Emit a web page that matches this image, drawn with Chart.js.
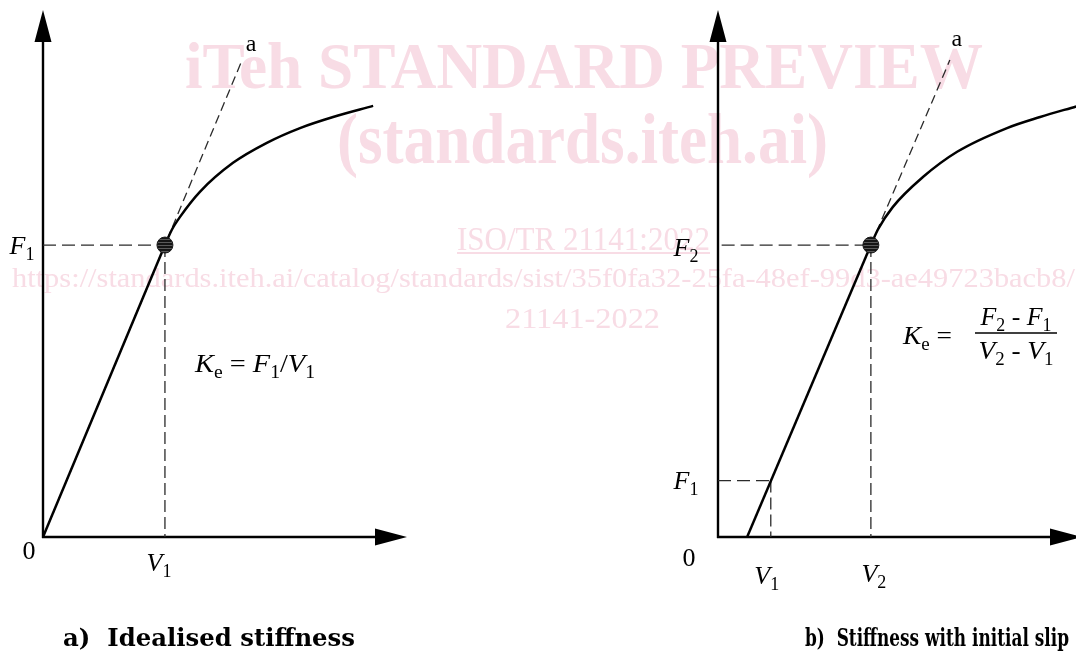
<!DOCTYPE html>
<html>
<head>
<meta charset="utf-8">
<script src="https://cdn.jsdelivr.net/npm/chart.js@4.4.1/dist/chart.umd.min.js"></script>
<style>
  html, body { margin: 0; padding: 0; background: #fff; overflow: hidden; }
  #page { position: relative; width: 1076px; height: 654px; overflow: hidden; }
  #page canvas { position: absolute; top: 0; }
  #bg { left: 0; }
  #chartA { left: 0; }
  #chartB { left: 640px; }
</style>
</head>
<body>
<div id="page">
  <canvas id="bg" width="1076" height="654"></canvas>
  <canvas id="chartA" width="540" height="600"></canvas>
  <canvas id="chartB" width="460" height="600"></canvas>
</div>
<script>
// ---- a) Idealised stiffness : load F against slip V ----
const idealElasticV = [0, 3.35];
const idealElasticF = [0, 5.54];
const idealCurveV = [3.35, 3.54, 3.76, 4.31, 5.22, 6.15, 7.06, 7.97, 9.07];
const idealCurveF = [5.54, 5.83, 6.07, 6.55, 7.10, 7.48, 7.76, 7.97, 8.18];
const idealTangentV = [0, 5.47];
const idealTangentF = [0, 9.05];
const idealV1 = 3.35, idealF1 = 5.54;

// ---- b) Stiffness with initial slip ----
const slipElasticV = [0.80, 4.20];
const slipElasticF = [0, 5.54];
const slipCurveV = [4.20, 4.39, 4.80, 5.63, 6.57, 7.94, 8.85, 9.84];
const slipCurveF = [5.54, 5.83, 6.26, 6.83, 7.31, 7.76, 7.97, 8.17];
const slipTangentV = [4.20, 6.37];
const slipTangentF = [5.54, 9.05];
const slipV1 = 1.45, slipF1 = 1.07, slipV2 = 4.20, slipF2 = 5.54;

// both axes run from 0 to the arrow tip
const axisMin = 0, axisMax = 10;

const MAIN_FONT = '"Liberation Serif", "DejaVu Serif", serif';
const WATERMARK = '#f8dce5';

const pts = (vs, fs) => vs.map((v, i) => ({ x: v, y: fs[i] }));

function hatchPattern(ctx) {
  const c = document.createElement('canvas');
  c.width = 4; c.height = 3;
  const g = c.getContext('2d');
  g.fillStyle = '#5a5a5a'; g.fillRect(0, 0, 4, 3);
  g.fillStyle = '#151515'; g.fillRect(0, 0, 4, 2);
  return ctx.createPattern(c, 'repeat');
}

// rich text: parts = [[text, 'i' | 'r' | 'b']]  (italic, roman, subscript)
function drawRich(ctx, parts, x, y, opts = {}) {
  const size = opts.size || 26;
  const sub = Math.round(size * 0.68);
  const segs = parts.map(([t, s]) => {
    const sz = s === 'b' ? sub : size;
    const font = (s === 'i' ? 'italic ' : '') + sz + 'px ' + MAIN_FONT;
    ctx.font = font;
    return { t, s, font, w: ctx.measureText(t).width };
  });
  const natural = segs.reduce((a, g) => a + g.w, 0);
  const k = opts.width ? opts.width / natural : 1;
  const total = natural * k;
  const x0 = opts.align === 'left' ? x : opts.align === 'right' ? x - total : x - total / 2;
  const base = y + size * 0.33;
  ctx.save();
  ctx.translate(x0, base);
  ctx.scale(k, 1);
  ctx.fillStyle = opts.color || '#000';
  ctx.textBaseline = 'alphabetic';
  let cx = 0;
  for (const g of segs) {
    ctx.font = g.font;
    ctx.fillText(g.t, cx, g.s === 'b' ? size * 0.24 : 0);
    cx += g.w;
  }
  ctx.restore();
  return total;
}

// axes with filled arrow heads, placed through the chart scales
const arrowAxes = {
  id: 'arrowAxes',
  beforeDatasetsDraw(chart) {
    const { ctx, scales: { x, y } } = chart;
    const x0 = x.getPixelForValue(axisMin), y0 = y.getPixelForValue(axisMin);
    const xt = x.getPixelForValue(axisMax), yt = y.getPixelForValue(axisMax);
    const len = 32, half = 8.5;
    ctx.save();
    ctx.strokeStyle = '#000'; ctx.fillStyle = '#000'; ctx.lineWidth = 2.4;
    ctx.beginPath();
    ctx.moveTo(x0, y0 + 1); ctx.lineTo(x0, yt + len);
    ctx.moveTo(x0 - 1, y0); ctx.lineTo(xt - len, y0);
    ctx.stroke();
    ctx.beginPath();
    ctx.moveTo(x0, yt); ctx.lineTo(x0 - half, yt + len); ctx.lineTo(x0 + half, yt + len); ctx.closePath();
    ctx.moveTo(xt, y0); ctx.lineTo(xt - len, y0 - half); ctx.lineTo(xt - len, y0 + half); ctx.closePath();
    ctx.fill();
    ctx.restore();
  }
};

// labels anchored on data values plus pixel offsets
const panelText = {
  id: 'panelText',
  afterDatasetsDraw(chart, args, opts) {
    const { ctx, scales: { x, y } } = chart;
    for (const it of opts.items || []) {
      const px = x.getPixelForValue(it.vx) + (it.dx || 0);
      const py = y.getPixelForValue(it.vy) + (it.dy || 0);
      if (it.frac) {
        drawRich(ctx, it.frac.num, px, py - it.frac.gap, { size: it.size, width: it.frac.numW });
        drawRich(ctx, it.frac.den, px, py + it.frac.gap, { size: it.size, width: it.frac.denW });
        ctx.save();
        ctx.strokeStyle = '#000'; ctx.lineWidth = 1.6;
        ctx.beginPath();
        ctx.moveTo(px - it.frac.barW / 2, py + it.frac.barDy);
        ctx.lineTo(px + it.frac.barW / 2, py + it.frac.barDy);
        ctx.stroke();
        ctx.restore();
      } else {
        drawRich(ctx, it.parts, px, py, { size: it.size, align: it.align, width: it.width });
      }
    }
  }
};

function lineSet(data, extra) {
  return Object.assign({
    data, showLine: true, pointRadius: 0, borderColor: '#000',
    borderWidth: 2.5, fill: false, order: 1
  }, extra);
}
const dashed = (data, dash) => lineSet(data, {
  borderWidth: 1.3, borderColor: '#2b2b2b', borderDash: dash, order: 2
});

function panelConfig(datasets, items, padding) {
  return {
    type: 'scatter',
    data: { datasets },
    options: {
      responsive: false, animation: false, events: [],
      layout: { padding },
      scales: {
        x: { type: 'linear', min: axisMin, max: axisMax, display: false },
        y: { type: 'linear', min: axisMin, max: axisMax, display: false }
      },
      plugins: {
        legend: { display: false }, tooltip: { enabled: false },
        panelText: { items }
      }
    },
    plugins: [arrowAxes, panelText]
  };
}

function marker(ctx, v, f) {
  return {
    data: [{ x: v, y: f }], showLine: false, pointRadius: 8, pointHoverRadius: 8,
    backgroundColor: hatchPattern(ctx), borderColor: '#1a1a1a', borderWidth: 1, order: 0
  };
}

// ---- background: watermark lettering and panel captions ----
function fitText(ctx, text, x, baseline, width, font, color) {
  ctx.font = font;
  const w = ctx.measureText(text).width;
  ctx.save();
  ctx.translate(x, baseline);
  ctx.scale(width / w, 1);
  ctx.fillStyle = color;
  ctx.textBaseline = 'alphabetic';
  ctx.fillText(text, 0, 0);
  ctx.restore();
}
(function drawBackground() {
  const ctx = document.getElementById('bg').getContext('2d');
  ctx.fillStyle = '#fff'; ctx.fillRect(0, 0, 1076, 654);
  const serif = '"Liberation Serif", serif';
  fitText(ctx, 'iTeh STANDARD PREVIEW', 185, 88, 798, 'bold 65px ' + serif, WATERMARK);
  fitText(ctx, '(standards.iteh.ai)', 337, 163, 491, 'bold 72px ' + serif, WATERMARK);
  fitText(ctx, 'ISO/TR 21141:2022', 457, 250, 253, '33px ' + serif, WATERMARK);
  ctx.fillStyle = WATERMARK; ctx.fillRect(457, 252, 253, 2);
  fitText(ctx, 'https://standards.iteh.ai/catalog/standards/sist/35f0fa32-25fa-48ef-99d3-ae49723bacb8/',
    12, 287, 1063, '28px ' + serif, WATERMARK);
  fitText(ctx, '21141-2022', 505, 328, 155, '30px ' + serif, WATERMARK);

  const cap = 'bold 24px "DejaVu Serif", serif';
  fitText(ctx, 'a)  Idealised stiffness', 63, 646, 292, cap, '#000');
  fitText(ctx, 'b)  Stiffness with initial slip', 805, 646, 264, cap, '#000');
})();

// ---- panel a) ----
const ctxA = document.getElementById('chartA').getContext('2d');
new Chart(ctxA, panelConfig([
  marker(ctxA, idealV1, idealF1),
  lineSet(pts(idealElasticV, idealElasticF)),
  lineSet(pts(idealCurveV, idealCurveF), { cubicInterpolationMode: 'monotone' }),
  dashed(pts(idealTangentV, idealTangentF), [9, 5]),
  dashed([{ x: 0, y: idealF1 }, { x: idealV1, y: idealF1 }], [13, 6]),
  dashed([{ x: idealV1, y: idealF1 }, { x: idealV1, y: 0 }], [12, 5])
], [
  { vx: idealTangentV[1], vy: idealTangentF[1], dx: 9, dy: -17, parts: [['a', 'r']], size: 24 },
  { vx: 0, vy: idealF1, dx: -21, dy: 0, parts: [['F', 'i'], ['1', 'b']] },
  { vx: 0, vy: 0, dx: -14, dy: 13, parts: [['0', 'r']] },
  { vx: idealV1, vy: 0, dx: -6, dy: 25, parts: [['V', 'i'], ['1', 'b']] },
  { vx: 0, vy: 0, dx: 152, dy: -174, align: 'left', width: 120,
    parts: [['K', 'i'], ['e', 'b'], [' = ', 'r'], ['F', 'i'], ['1', 'b'], ['/', 'r'], ['V', 'i'], ['1', 'b']] }
], { left: 43, right: 133, top: 10, bottom: 63 }));

// ---- panel b) ----
const ctxB = document.getElementById('chartB').getContext('2d');
new Chart(ctxB, panelConfig([
  marker(ctxB, slipV2, slipF2),
  lineSet(pts(slipElasticV, slipElasticF)),
  lineSet(pts(slipCurveV, slipCurveF), { cubicInterpolationMode: 'monotone' }),
  dashed(pts(slipTangentV, slipTangentF), [9, 5]),
  dashed([{ x: 0, y: slipF1 }, { x: slipV1, y: slipF1 }], [13, 6]),
  dashed([{ x: slipV1, y: slipF1 }, { x: slipV1, y: 0 }], [12, 5]),
  dashed([{ x: 0.1, y: slipF2 }, { x: slipV2, y: slipF2 }], [13, 6]),
  dashed([{ x: slipV2, y: slipF2 }, { x: slipV2, y: 0 }], [12, 5])
], [
  { vx: slipTangentV[1], vy: slipTangentF[1], dx: 7, dy: -22, parts: [['a', 'r']], size: 24 },
  { vx: 0, vy: slipF2, dx: -32, dy: 2, parts: [['F', 'i'], ['2', 'b']] },
  { vx: 0, vy: slipF1, dx: -32, dy: 0, parts: [['F', 'i'], ['1', 'b']] },
  { vx: 0, vy: 0, dx: -29, dy: 20, parts: [['0', 'r']] },
  { vx: slipV1, vy: 0, dx: -4, dy: 38, parts: [['V', 'i'], ['1', 'b']] },
  { vx: slipV2, vy: 0, dx: 3, dy: 36, parts: [['V', 'i'], ['2', 'b']] },
  { vx: 0, vy: 0, dx: 185, dy: -202, align: 'left', width: 49,
    parts: [['K', 'i'], ['e', 'b'], [' =', 'r']] },
  { vx: 0, vy: 0, dx: 298, dy: -204, frac: {
      num: [['F', 'i'], ['2', 'b'], [' - ', 'r'], ['F', 'i'], ['1', 'b']],
      den: [['V', 'i'], ['2', 'b'], [' - ', 'r'], ['V', 'i'], ['1', 'b']],
      numW: 71, denW: 75, gap: 17, barW: 82, barDy: 0 } }
], { left: 78, right: 18, top: 10, bottom: 63 }));
</script>
</body>
</html>
